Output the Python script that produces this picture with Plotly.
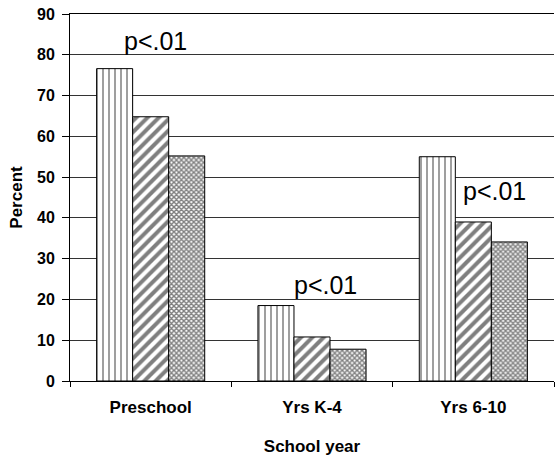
import plotly.graph_objects as go

categories = ["Preschool", "Yrs K-4", "Yrs 6-10"]
series1 = [76.6, 18.5, 55.0]
series2 = [64.8, 10.8, 39.0]
series3 = [55.2, 7.8, 34.1]
annot_text = ["p<.01", "p<.01", "p<.01"]
annot_y = [83.3, 23.5, 46.6]
annot_dx = [0.03, 0.086, 0.133]

FONT = "Liberation Sans, Arial, sans-serif"

patterns = [
    dict(shape="|", size=6, solidity=0.25, fgcolor="black", bgcolor="white"),
    dict(shape="/", size=8, solidity=0.5, fgcolor="black", bgcolor="white"),
    dict(shape="x", size=3.5, solidity=0.65, fgcolor="black", bgcolor="white"),
]

fig = go.Figure()
for vals, pat in zip([series1, series2, series3], patterns):
    fig.add_trace(go.Bar(
        x=list(range(len(categories))), y=vals,
        marker=dict(color="white", pattern=pat, line=dict(color="black", width=1)),
        showlegend=False,
    ))

for i, (t, yv, dx) in enumerate(zip(annot_text, annot_y, annot_dx)):
    fig.add_annotation(x=i + dx, y=yv, text=t, showarrow=False,
                       xref="x", yref="y", font=dict(family=FONT, size=25, color="black"))

fig.update_layout(
    width=555, height=456,
    margin=dict(l=70, r=1, t=14, b=75),
    paper_bgcolor="white", plot_bgcolor="white",
    barmode="group", bargap=0.33, bargroupgap=0,
    font=dict(family=FONT, color="black"),
)
fig.update_xaxes(
    range=[-0.5, 2.5], automargin=False,
    tickmode="array", tickvals=[0, 1, 2], ticktext=["<b>%s</b>" % c for c in categories],
    ticks="", showline=True, linecolor="black", linewidth=1, mirror=True,
    tickfont=dict(family=FONT, size=17, color="black"),
    ticklabelstandoff=11,
    title=dict(text="<b>School year</b>", font=dict(family=FONT, size=17), standoff=24),
    showgrid=False, zeroline=False,
    minor=dict(tickmode="array", tickvals=[-0.5, 0.5, 1.5, 2.5], ticks="outside",
               ticklen=5, tickcolor="black", showgrid=False),
)
fig.update_yaxes(
    range=[0, 90], dtick=10, tick0=0, automargin=True,
    ticks="outside", ticklen=7, tickcolor="black",
    showline=True, linecolor="black", linewidth=1,
    showgrid=True, gridcolor="#333", gridwidth=1, zeroline=False,
    tickfont=dict(family=FONT, size=16, color="black"),
    ticklabelstandoff=4,
    tickformat="d", tickprefix="<b>", ticksuffix="</b>",
    title=dict(text="<b>Percent</b>", font=dict(family=FONT, size=17), standoff=10),
)

fig.write_html("out.html", config={"displayModeBar": False},
               post_script="document.body.style.margin='0';document.body.style.overflow='hidden';")
